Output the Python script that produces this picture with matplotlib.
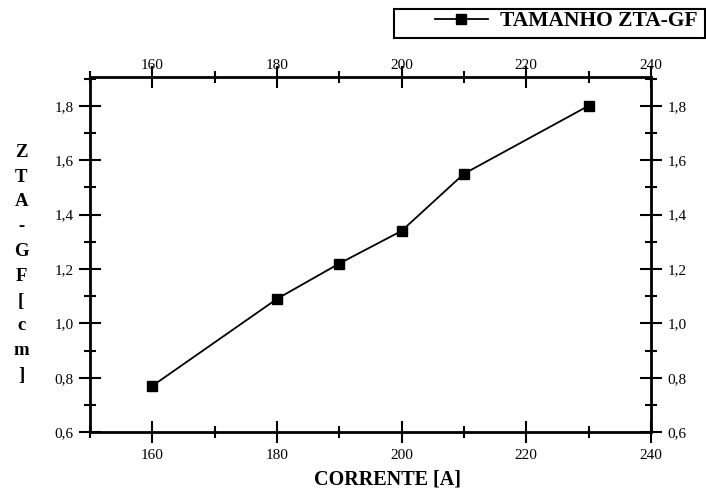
import matplotlib.pyplot as plt
from matplotlib.patches import Rectangle
from matplotlib.ticker import MultipleLocator, FuncFormatter

plt.rcParams['font.family'] = ['Liberation Serif', 'DejaVu Serif']

# dados: corrente [A] x tamanho ZTA-GF [cm]
corrente = [160, 180, 190, 200, 210, 230]
tamanho = [0.77, 1.09, 1.22, 1.34, 1.55, 1.80]

W, H = 706, 495
fig = plt.figure(figsize=(W / 100, H / 100), dpi=100)
ax = fig.add_axes([0.1275, 0.127, 0.7945, 0.717])

ax.plot(corrente, tamanho, color='black', lw=1.3, marker='s', ms=7,
        label='TAMANHO ZTA-GF')

ax.set_xlim(150, 240)
ax.set_ylim(0.6, 1.905)
ax.xaxis.set_major_locator(MultipleLocator(20))
ax.xaxis.set_minor_locator(MultipleLocator(10))
ax.yaxis.set_major_locator(MultipleLocator(0.2))
ax.yaxis.set_minor_locator(MultipleLocator(0.1))
fmt = FuncFormatter(lambda v, p: f'{v:.1f}'.replace('.', ','))
ax.yaxis.set_major_formatter(fmt)

ax.tick_params(which='both', direction='inout', top=True, right=True,
               labeltop=False, labelright=True, width=1.5, labelsize=11,
               colors='black')
ax.tick_params(which='major', length=16)
ax.tick_params(which='minor', length=8)
ax.tick_params(axis='x', which='major', pad=4)
ax.tick_params(axis='y', which='major', pad=4)
for s in ax.spines.values():
    s.set_linewidth(2)

# rótulos do eixo superior, quase encostados no eixo
top = ax.secondary_xaxis('top')
top.xaxis.set_major_locator(MultipleLocator(20))
top.tick_params(length=0, pad=3.5, labelsize=11)
top.spines['top'].set_visible(False)

ax.set_xlabel('CORRENTE [A]', fontsize=14.5, fontweight='bold')
ax.xaxis.set_label_coords(0.53, -0.105)
fig.text(0.03, 0.467, '\n'.join('ZTA-GF[cm]'), fontsize=13.5, fontweight='bold',
         ha='center', va='center', linespacing=1.6)

# legenda com moldura própria
fig.add_artist(Rectangle((394 / W, 1 - 38 / H), 311 / W, 29 / H,
                         transform=fig.transFigure, fill=False,
                         edgecolor='black', lw=1.5))
fig.legend(loc='upper left', bbox_to_anchor=(435 / W, 1 - 11 / H),
           frameon=False, prop={'weight': 'bold', 'size': 15.5},
           handlelength=2.45, borderpad=0, handletextpad=0.55, borderaxespad=0)

fig.savefig('out.png', dpi=100)
